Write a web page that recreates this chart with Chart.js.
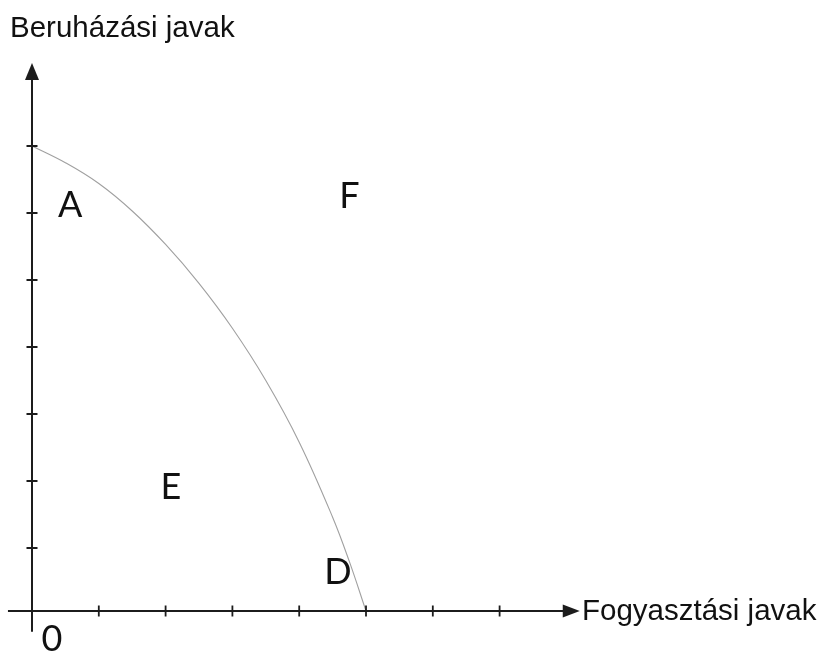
<!DOCTYPE html>
<html>
<head>
<meta charset="utf-8">
<script src="https://cdn.jsdelivr.net/npm/chart.js@4.4.1/dist/chart.umd.min.js"></script>
<style>
  html, body { margin: 0; padding: 0; background: #fff; }
  #wrap { width: 825px; height: 652px; }
</style>
</head>
<body>
<div id="wrap"><canvas id="ppf" width="825" height="652"></canvas></div>
<script>
// Production possibility frontier — values in tick units, origin at axis crossing
const curveX = [0, 0.5, 1, 1.5, 2, 2.5, 3, 3.5, 4, 4.5, 4.75, 5];
const curveY = [6.94, 6.69, 6.38, 5.97, 5.47, 4.89, 4.22, 3.44, 2.52, 1.40, 0.74, 0];

const xTicks = [1, 2, 3, 4, 5, 6, 7];
const yTicks = [0.94, 1.94, 2.94, 3.94, 4.94, 5.94, 6.94];

const pointNames = ['A', 'F', 'E', 'D', '0'];
const pointX = [0.57, 4.75, 2.08, 4.58, 0.30];
const pointY = [6.06, 6.19, 1.85, 0.57, -0.43];

const xTitle = 'Fogyasztási javak';
const yTitle = 'Beruházási javak';

const axisColor = '#1c1c1c';

const axesPlugin = {
  id: 'axesPlugin',
  afterDatasetsDraw(chart) {
    const { ctx, scales: { x, y } } = chart;
    const ox = x.getPixelForValue(0);
    const oy = y.getPixelForValue(0);
    ctx.save();
    ctx.strokeStyle = axisColor;
    ctx.fillStyle = axisColor;
    ctx.lineWidth = 2;

    // axis lines
    const xEnd = x.getPixelForValue(8.2);
    const yEnd = y.getPixelForValue(8.18);
    ctx.beginPath();
    ctx.moveTo(x.getPixelForValue(-0.36), oy);
    ctx.lineTo(xEnd - 10, oy);
    ctx.moveTo(ox, y.getPixelForValue(-0.31));
    ctx.lineTo(ox, yEnd + 10);
    ctx.stroke();

    // arrow heads
    ctx.beginPath();
    ctx.moveTo(xEnd, oy);
    ctx.lineTo(xEnd - 17, oy - 6.5);
    ctx.lineTo(xEnd - 17, oy + 6.5);
    ctx.closePath();
    ctx.fill();
    ctx.beginPath();
    ctx.moveTo(ox, yEnd);
    ctx.lineTo(ox - 7, yEnd + 17);
    ctx.lineTo(ox + 7, yEnd + 17);
    ctx.closePath();
    ctx.fill();

    // tick marks
    ctx.lineWidth = 1.8;
    ctx.beginPath();
    xTicks.forEach(v => {
      const px = x.getPixelForValue(v);
      ctx.moveTo(px, oy - 5.5);
      ctx.lineTo(px, oy + 5.5);
    });
    yTicks.forEach(v => {
      const py = y.getPixelForValue(v);
      ctx.moveTo(ox - 5.5, py);
      ctx.lineTo(ox + 5.5, py);
    });
    ctx.stroke();

    // axis titles
    ctx.font = '29.5px "Liberation Sans", Arial, sans-serif';
    ctx.textBaseline = 'alphabetic';
    ctx.textAlign = 'left';
    ctx.fillStyle = '#111';
    ctx.fillText(xTitle, 582, oy + 9);
    ctx.fillText(yTitle, 10, 37);

    // point labels
    ctx.font = '36px Lato, "DejaVu Sans", sans-serif';
    ctx.textAlign = 'center';
    ctx.textBaseline = 'middle';
    pointNames.forEach((name, i) => {
      ctx.fillText(name, x.getPixelForValue(pointX[i]), y.getPixelForValue(pointY[i]));
    });
    ctx.restore();
  }
};

new Chart(document.getElementById('ppf'), {
  type: 'scatter',
  data: {
    datasets: [{
      data: curveX.map((v, i) => ({ x: v, y: curveY[i] })),
      showLine: true,
      borderColor: '#a0a0a0',
      borderWidth: 1.1,
      pointRadius: 0,
      tension: 0.4,
      fill: false
    }]
  },
  options: {
    responsive: false,
    animation: false,
    devicePixelRatio: 1,
    layout: { padding: 0 },
    plugins: { legend: { display: false }, tooltip: { enabled: false } },
    scales: {
      x: { type: 'linear', display: false, min: -0.479, max: 11.871 },
      y: { type: 'linear', display: false, min: -0.612, max: 9.119 }
    }
  },
  plugins: [axesPlugin]
});
</script>
</body>
</html>
